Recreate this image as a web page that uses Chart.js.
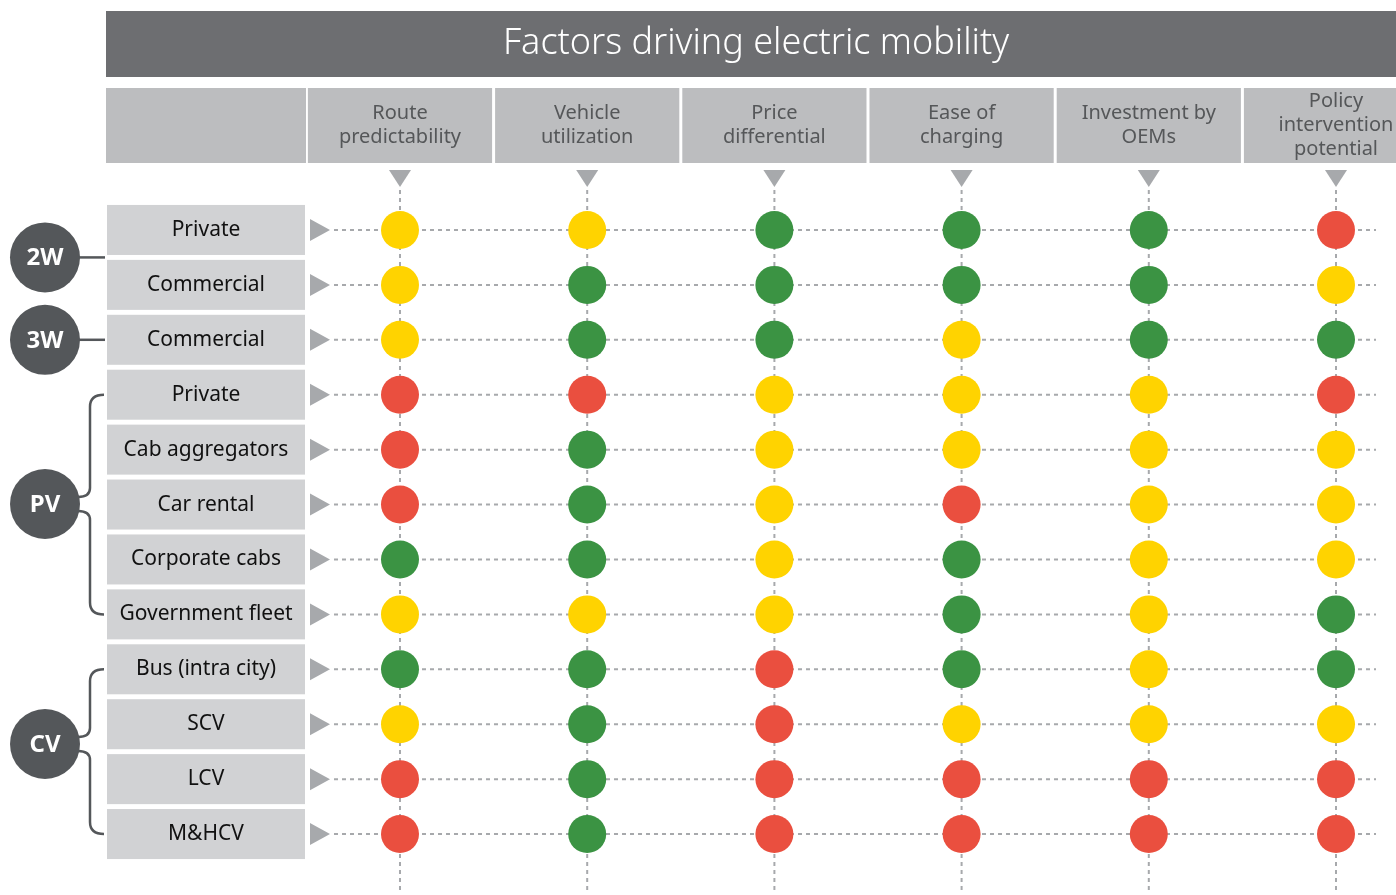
<!DOCTYPE html>
<html><head><meta charset="utf-8">
<script src="https://cdn.jsdelivr.net/npm/chart.js@4/dist/chart.umd.min.js"></script>
<style>html,body{margin:0;padding:0;background:#fff;overflow:hidden}#wrap{width:1396px;height:895px;position:relative}</style>
</head><body><div id="wrap"><canvas id="c"></canvas></div>
<script>
const title = "Factors driving electric mobility";
const factors = [["Route","predictability"],["Vehicle","utilization"],["Price","differential"],["Ease of","charging"],["Investment by","OEMs"],["Policy","intervention","potential"]];
const segments = ["Private","Commercial","Commercial","Private","Cab aggregators","Car rental","Corporate cabs","Government fleet","Bus (intra city)","SCV","LCV","M&HCV"];
const groups = [{name:"2W",from:0,to:1},{name:"3W",from:2,to:2},{name:"PV",from:3,to:7},{name:"CV",from:8,to:11}];
// G = green (favourable), Y = yellow, R = red
const routePredictability = ["Y","Y","Y","R","R","R","G","Y","G","Y","R","R"];
const vehicleUtilization  = ["Y","G","G","R","G","G","G","Y","G","G","G","G"];
const priceDifferential   = ["G","G","G","Y","Y","Y","Y","Y","R","R","R","R"];
const easeOfCharging      = ["G","G","Y","Y","Y","R","G","G","G","Y","R","R"];
const investmentByOEMs    = ["G","G","G","Y","Y","Y","Y","Y","Y","Y","R","R"];
const policyIntervention  = ["R","Y","G","R","Y","Y","Y","G","G","Y","R","R"];
const columns = [routePredictability,vehicleUtilization,priceDifferential,easeOfCharging,investmentByOEMs,policyIntervention];
const colorMap = {G:"#3b9343",Y:"#ffd300",R:"#ea4f3f"};

const pts=[], cols=[];
columns.forEach((col,ci)=>col.forEach((v,ri)=>{pts.push({x:ci,y:ri});cols.push(colorMap[v]);}));

const FONT='"Noto Sans", sans-serif';
const dash='#a7a9ac';
const deco = {
  id:'deco',
  beforeDatasetsDraw(chart){
    const {ctx,scales:{x,y}}=chart;
    const W=chart.width;
    const colStep = x.getPixelForValue(1)-x.getPixelForValue(0);
    ctx.save();
    // title bar
    ctx.fillStyle='#6d6e71';
    ctx.fillRect(106,11,W-106,66);
    ctx.fillStyle='#fff';ctx.font='300 36px '+FONT;ctx.textAlign='center';ctx.textBaseline='middle';
    ctx.fillText(title,756,44);
    // header cells
    ctx.fillStyle='#bcbdbf';
    ctx.fillRect(106,88,200,75);
    factors.forEach((f,i)=>{
      const cx=x.getPixelForValue(i);
      const l=cx-colStep/2+1.5, r=Math.min(cx+colStep/2-1.5,W);
      ctx.fillStyle='#bcbdbf';
      ctx.fillRect(l,88,r-l,75);
      ctx.fillStyle='#555759';ctx.font='20px '+FONT;
      const n=f.length, lh=24, y0=125.5-(n-1)*lh/2;
      f.forEach((t,k)=>ctx.fillText(t,cx,y0+k*lh));
      // down triangle
      ctx.fillStyle=dash;
      ctx.beginPath();ctx.moveTo(cx-11,170);ctx.lineTo(cx+11,170);ctx.lineTo(cx,187);ctx.closePath();ctx.fill();
      // vertical dashed line
      ctx.strokeStyle=dash;ctx.lineWidth=2;ctx.setLineDash([4,4]);
      ctx.beginPath();ctx.moveTo(cx,190);ctx.lineTo(cx,893);ctx.stroke();ctx.setLineDash([]);
    });
    // rows
    segments.forEach((s,i)=>{
      const cy=y.getPixelForValue(i);
      ctx.fillStyle='#d1d2d4';
      ctx.fillRect(107,cy-25,198,50);
      ctx.fillStyle='#111';ctx.font='21px '+FONT;ctx.textAlign='center';
      ctx.fillText(s,206,cy);
      ctx.fillStyle=dash;
      ctx.beginPath();ctx.moveTo(310,cy-11);ctx.lineTo(330,cy);ctx.lineTo(310,cy+11);ctx.closePath();ctx.fill();
      ctx.strokeStyle=dash;ctx.lineWidth=2;ctx.setLineDash([4,4]);
      ctx.beginPath();ctx.moveTo(334,cy);ctx.lineTo(1376,cy);ctx.stroke();ctx.setLineDash([]);
    });
    // groups
    const gc='#54575a';
    groups.forEach(g=>{
      const yt=y.getPixelForValue(g.from), yb=y.getPixelForValue(g.to);
      let cy=(yt+yb)/2;
      if(g.name==='PV') cy=504;
      if(g.name==='CV') cy=744;
      ctx.strokeStyle=gc;ctx.lineWidth=2.5;
      if(g.from===g.to || g.name==='2W'){
        ctx.beginPath();ctx.moveTo(78,cy);ctx.lineTo(105,cy);ctx.stroke();
      } else {
        ctx.beginPath();
        ctx.moveTo(104,yt);ctx.quadraticCurveTo(90,yt,90,yt+12);
        ctx.lineTo(90,cy-16);ctx.quadraticCurveTo(90,cy-7,78,cy-7);
        ctx.moveTo(78,cy+7);ctx.quadraticCurveTo(90,cy+7,90,cy+16);
        ctx.lineTo(90,yb-12);ctx.quadraticCurveTo(90,yb,104,yb);
        ctx.stroke();
      }
      ctx.fillStyle=gc;
      ctx.beginPath();ctx.arc(45,cy,35,0,Math.PI*2);ctx.fill();
      ctx.fillStyle='#fff';ctx.font='bold 24px '+FONT;ctx.textAlign='center';
      ctx.fillText(g.name,45,cy+1);
    });
    ctx.restore();
  }
};

new Chart(document.getElementById('c'),{
  type:'scatter',
  data:{datasets:[{data:pts,backgroundColor:cols,borderColor:cols,pointRadius:19,pointHoverRadius:19,borderWidth:0,clip:false}]},
  options:{
    responsive:true,maintainAspectRatio:false,animation:false,
    layout:{autoPadding:false,padding:{left:306,right:0,top:202.5,bottom:0}},
    plugins:{legend:{display:false},tooltip:{enabled:false},title:{display:false}},
    scales:{
      x:{type:'linear',min:-0.5021,max:5.3205,display:false},
      y:{type:'linear',reverse:true,min:-0.5,max:12.11,display:false}
    }
  },
  plugins:[deco]
});
</script></body></html>
